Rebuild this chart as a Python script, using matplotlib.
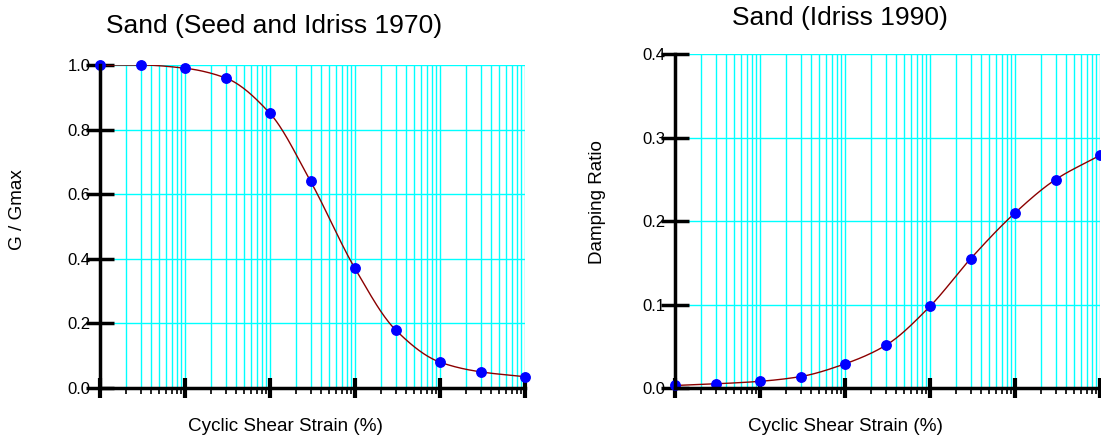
import numpy as np
import matplotlib
matplotlib.use("Agg")
import matplotlib.pyplot as plt
from matplotlib.ticker import LogLocator, NullFormatter, MultipleLocator, FormatStrFormatter

plt.rcParams["font.family"] = ["Liberation Sans", "DejaVu Sans"]

# cyclic shear strain (%) for both curves
strain = [1e-4, 3e-4, 1e-3, 3e-3, 1e-2, 3e-2, 0.1, 0.3, 1.0, 3.0, 10.0]
# modulus reduction, Seed and Idriss 1970
g_gmax = [1.0, 1.0, 0.99, 0.96, 0.85, 0.64, 0.37, 0.18, 0.08, 0.05, 0.035]
# damping ratio, Idriss 1990
damping = [0.003, 0.005, 0.008, 0.0137, 0.029, 0.051, 0.098, 0.155, 0.21, 0.25, 0.279]


def smooth_curve(x, y, n=30):
    # monotone cubic hermite in log10(x) so the line passes through every point
    lx = np.log10(x)
    y = np.asarray(y, dtype=float)
    h = np.diff(lx)
    d = np.diff(y) / h
    m = np.zeros_like(y)
    m[0], m[-1] = d[0], d[-1]
    for i in range(1, len(y) - 1):
        if d[i - 1] * d[i] <= 0:
            m[i] = 0.0
        else:
            w1 = 2 * h[i] + h[i - 1]
            w2 = h[i] + 2 * h[i - 1]
            m[i] = (w1 + w2) / (w1 / d[i - 1] + w2 / d[i])
    xs, ys = [], []
    for i in range(len(y) - 1):
        t = np.linspace(0, 1, n, endpoint=False)
        h00 = 2 * t**3 - 3 * t**2 + 1
        h10 = t**3 - 2 * t**2 + t
        h01 = -2 * t**3 + 3 * t**2
        h11 = t**3 - t**2
        xs.append(lx[i] + t * h[i])
        ys.append(h00 * y[i] + h10 * h[i] * m[i] + h01 * y[i + 1] + h11 * h[i] * m[i + 1])
    xs.append([lx[-1]])
    ys.append([y[-1]])
    return 10 ** np.concatenate(xs), np.concatenate(ys)


def style_axes(ax, ymax, ystep):
    ax.set_xscale("log")
    ax.set_xlim(1e-4, 10)
    ax.set_ylim(0, ymax)
    ax.xaxis.set_major_locator(LogLocator(base=10, numticks=10))
    ax.xaxis.set_minor_locator(LogLocator(base=10, subs=np.arange(2, 10), numticks=10))
    ax.xaxis.set_major_formatter(NullFormatter())
    ax.xaxis.set_minor_formatter(NullFormatter())
    ax.yaxis.set_major_locator(MultipleLocator(ystep))
    ax.yaxis.set_major_formatter(FormatStrFormatter("%.1f"))
    ax.grid(which="both", axis="x", color="#00FFFF", linewidth=1)
    ax.grid(which="major", axis="y", color="#00FFFF", linewidth=1)
    ax.set_axisbelow(True)
    ax.spines["top"].set_visible(False)
    ax.spines["right"].set_visible(False)
    ax.spines["left"].set_linewidth(2.5)
    ax.spines["bottom"].set_linewidth(2.5)
    ax.tick_params(axis="x", which="major", direction="inout", length=15, width=3, color="black")
    ax.tick_params(axis="x", which="minor", direction="out", length=4, width=1.2, color="black")
    ax.tick_params(axis="y", which="major", direction="inout", length=20, width=2.5,
                   labelsize=12, pad=-3)
    ax.tick_params(axis="y", which="minor", left=False)


fig = plt.figure(figsize=(11.01, 4.36), dpi=100)

ax1 = fig.add_axes([100 / 1101, 48 / 436, 425 / 1101, 323 / 436])
style_axes(ax1, 1.0, 0.2)
sx, sy = smooth_curve(strain, g_gmax)
ax1.plot(sx, sy, color="#8B0000", linewidth=1)
ax1.plot(strain, g_gmax, "o", color="blue", markersize=6.8, clip_on=False)

ax2 = fig.add_axes([675 / 1101, 48 / 436, 425 / 1101, 333.5 / 436])
style_axes(ax2, 0.4, 0.1)
sx, sy = smooth_curve(strain, damping)
ax2.plot(sx, sy, color="#8B0000", linewidth=1)
ax2.plot(strain, damping, "o", color="blue", markersize=6.8, clip_on=False)

fig.text(274 / 1101, 1 - 33 / 436, "Sand (Seed and Idriss 1970)", ha="center", va="baseline", fontsize=19)
fig.text(840 / 1101, 1 - 25 / 436, "Sand (Idriss 1990)", ha="center", va="baseline", fontsize=19)
fig.text(285 / 1101, 1 - 431 / 436, "Cyclic Shear Strain (%)", ha="center", va="baseline", fontsize=13.6)
fig.text(845 / 1101, 1 - 431 / 436, "Cyclic Shear Strain (%)", ha="center", va="baseline", fontsize=13.6)
fig.text(18 / 1101, 1 - 210 / 436, "G / Gmax", ha="center", va="center", rotation=90, fontsize=13.6)
fig.text(597 / 1101, 1 - 202 / 436, "Damping Ratio", ha="center", va="center", rotation=90, fontsize=13.6)

fig.savefig("out.png", dpi=100)
